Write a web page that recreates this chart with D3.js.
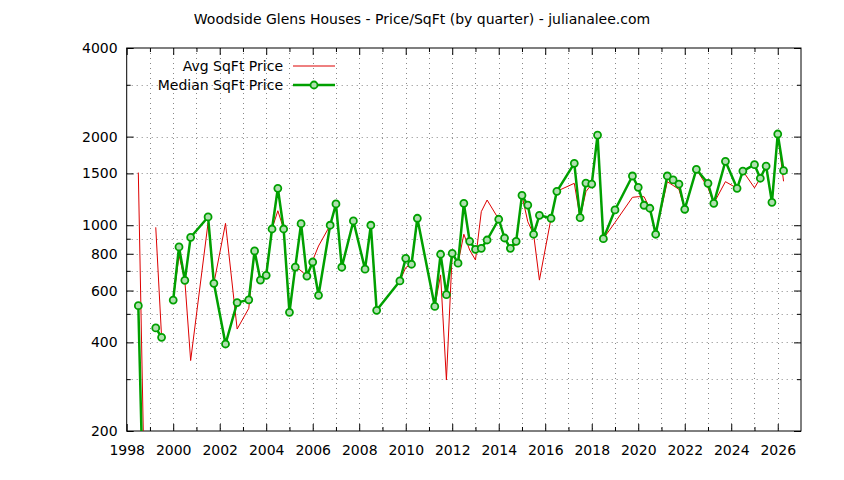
<!DOCTYPE html>
<html><head><meta charset="utf-8">
<script src="https://cdn.jsdelivr.net/npm/d3@7"></script>
<style>
body{margin:0;background:#fff;}
svg{display:block;font-family:"DejaVu Sans",sans-serif;}
</style></head>
<body><svg id="c" width="844" height="480"></svg>
<script>
const quarters = [1998.5,1998.75,1999.0,1999.25,1999.5,1999.75,2000.0,2000.25,2000.5,2000.75,2001.5,2001.75,2002.25,2002.75,2003.25,2003.5,2003.75,2004.0,2004.25,2004.5,2004.75,2005.0,2005.25,2005.5,2005.75,2006.0,2006.25,2006.75,2007.0,2007.25,2007.75,2008.25,2008.5,2008.75,2009.75,2010.0,2010.25,2010.5,2011.25,2011.5,2011.75,2012.0,2012.25,2012.5,2012.75,2013.0,2013.25,2013.5,2014.0,2014.25,2014.5,2014.75,2015.0,2015.25,2015.5,2015.75,2016.25,2016.5,2017.25,2017.5,2017.75,2018.0,2018.25,2018.5,2019.0,2019.75,2020.0,2020.25,2020.5,2020.75,2021.25,2021.5,2021.75,2022.0,2022.5,2023.0,2023.25,2023.75,2024.25,2024.5,2025.0,2025.25,2025.5,2025.75,2026.0,2026.25];
const avgPrice = [1510,140,null,984,418,null,557,790,650,347,1020,635,1015,444,522,818,651,700,971,1120,971,506,725,700,672,760,850,1000,1181,720,1034,709,1000,514,647,718,737,1056,530,678,298,803,743,932,824,762,1112,1218,1048,905,835,860,1264,1028,932,651,1056,1304,1388,1061,1300,1380,2025,900,1022,1244,1250,1250,1142,932,1406,1365,1324,1133,1549,1340,1187,1406,1335,1528,1340,1444,1589,1196,2041,1410];
const medianPrice = [533,85,null,448,416,null,557,844,650,910,1067,635,395,546,558,818,651,676,971,1335,971,506,721,1012,672,750,578,1000,1181,720,1034,709,1000,514,647,772,737,1056,530,797,581,803,743,1187,882,828,835,891,1048,905,835,882,1264,1171,932,1081,1056,1304,1623,1061,1391,1380,2025,900,1127,1470,1345,1169,1142,932,1470,1425,1380,1133,1549,1388,1187,1649,1335,1528,1606,1444,1589,1196,2041,1532];
const seriesNames = ["Avg SqFt Price","Median SqFt Price"];
const xTicks = [1998,2000,2002,2004,2006,2008,2010,2012,2014,2016,2018,2020,2022,2024,2026];
const xMinorTicks = [1999,2001,2003,2005,2007,2009,2011,2013,2015,2017,2019,2021,2023,2025];
const yTicks = [200,400,600,800,1000,1500,2000,4000];
const yMinorTicks = [300,500,700,900,3000];
const title = "Woodside Glens Houses - Price/SqFt (by quarter) - julianalee.com";

const svg = d3.select("#c");
const L=126.7,R=801,T=48,B=431;
const x = d3.scaleLinear().domain([1998,2027]).range([L,R]);
const y = d3.scaleLog().domain([200,4000]).range([B,T]);
const FS = 14;

svg.append("defs").append("clipPath").attr("id","clip")
  .append("rect").attr("x",L).attr("y",T).attr("width",R-L).attr("height",B-T);

// grid
const grid = svg.append("g").attr("stroke","#888").attr("stroke-width",1).attr("stroke-dasharray","1,4");
xTicks.concat(xMinorTicks).forEach(v=>{ if(v>1998) grid.append("line").attr("x1",Math.round(x(v))+0.5).attr("x2",Math.round(x(v))+0.5).attr("y1",T).attr("y2",B); });
yTicks.concat(yMinorTicks).forEach(v=>{ if(v>200 && v<4000) grid.append("line").attr("x1",L).attr("x2",R).attr("y1",Math.round(y(v))+0.5).attr("y2",Math.round(y(v))+0.5); });

function styleAxis(g){ g.select(".domain").remove(); g.selectAll("line").attr("stroke","#000"); g.selectAll("text").attr("font-size",FS).attr("fill","#000").attr("font-family","DejaVu Sans, sans-serif"); }
svg.append("g").attr("transform",`translate(0,${B})`).call(d3.axisBottom(x).tickValues(xTicks).tickFormat(d3.format("d")).tickSizeInner(-7).tickPadding(14)).call(styleAxis);
svg.append("g").attr("transform",`translate(0,${B})`).call(d3.axisBottom(x).tickValues(xMinorTicks).tickFormat("").tickSizeInner(-4)).call(styleAxis);
svg.append("g").attr("transform",`translate(0,${T})`).call(d3.axisTop(x).tickValues(xTicks).tickFormat("").tickSizeInner(-7)).call(styleAxis);
svg.append("g").attr("transform",`translate(0,${T})`).call(d3.axisTop(x).tickValues(xMinorTicks).tickFormat("").tickSizeInner(-4)).call(styleAxis);
svg.append("g").attr("transform",`translate(${L},0)`).call(d3.axisLeft(y).tickValues(yTicks).tickFormat(d3.format("d")).tickSizeInner(-7).tickPadding(9)).call(styleAxis);
svg.append("g").attr("transform",`translate(${L},0)`).call(d3.axisLeft(y).tickValues(yMinorTicks).tickFormat("").tickSizeInner(-4)).call(styleAxis);
svg.append("g").attr("transform",`translate(${R},0)`).call(d3.axisRight(y).tickValues(yTicks).tickFormat("").tickSizeInner(-7)).call(styleAxis);
svg.append("g").attr("transform",`translate(${R},0)`).call(d3.axisRight(y).tickValues(yMinorTicks).tickFormat("").tickSizeInner(-4)).call(styleAxis);

svg.append("rect").attr("x",L).attr("y",T).attr("width",R-L).attr("height",B-T).attr("fill","none").attr("stroke","#000").attr("stroke-width",1);

const RED="#dd0000", GREEN="#00a000", PFILL="#b0e0b0";
const avgData = quarters.map((q,i)=>({q,v:avgPrice[i]}));
const medData = quarters.map((q,i)=>({q,v:medianPrice[i]}));
const line = d3.line().defined(d=>d.v!=null).x(d=>x(d.q)).y(d=>y(d.v));
const plot = svg.append("g").attr("clip-path","url(#clip)");
plot.append("path").datum(avgData).attr("d",line).attr("fill","none").attr("stroke",RED).attr("stroke-width",1);
plot.append("path").datum(medData).attr("d",line).attr("fill","none").attr("stroke",GREEN).attr("stroke-width",2.5).attr("stroke-linejoin","round");
plot.selectAll("circle.m").data(medData.filter(d=>d.v!=null && d.v>=200)).join("circle")
  .attr("cx",d=>x(d.q)).attr("cy",d=>y(d.v)).attr("r",3.5)
  .attr("fill",PFILL).attr("stroke",GREEN).attr("stroke-width",1.8);

svg.append("text").attr("x",422).attr("y",19).attr("text-anchor","middle").attr("dominant-baseline","central")
  .attr("font-size",FS).text(title);

const lg = svg.append("g");
lg.append("text").attr("x",283).attr("y",66).attr("text-anchor","end").attr("dominant-baseline","central").attr("font-size",FS).text(seriesNames[0]);
lg.append("line").attr("x1",293).attr("x2",335).attr("y1",66).attr("y2",66).attr("stroke",RED).attr("stroke-width",1);
lg.append("text").attr("x",283).attr("y",85).attr("text-anchor","end").attr("dominant-baseline","central").attr("font-size",FS).text(seriesNames[1]);
lg.append("line").attr("x1",293).attr("x2",335).attr("y1",85).attr("y2",85).attr("stroke",GREEN).attr("stroke-width",2.5);
lg.append("circle").attr("cx",314).attr("cy",85).attr("r",3.5).attr("fill",PFILL).attr("stroke",GREEN).attr("stroke-width",1.8);
</script></body></html>
